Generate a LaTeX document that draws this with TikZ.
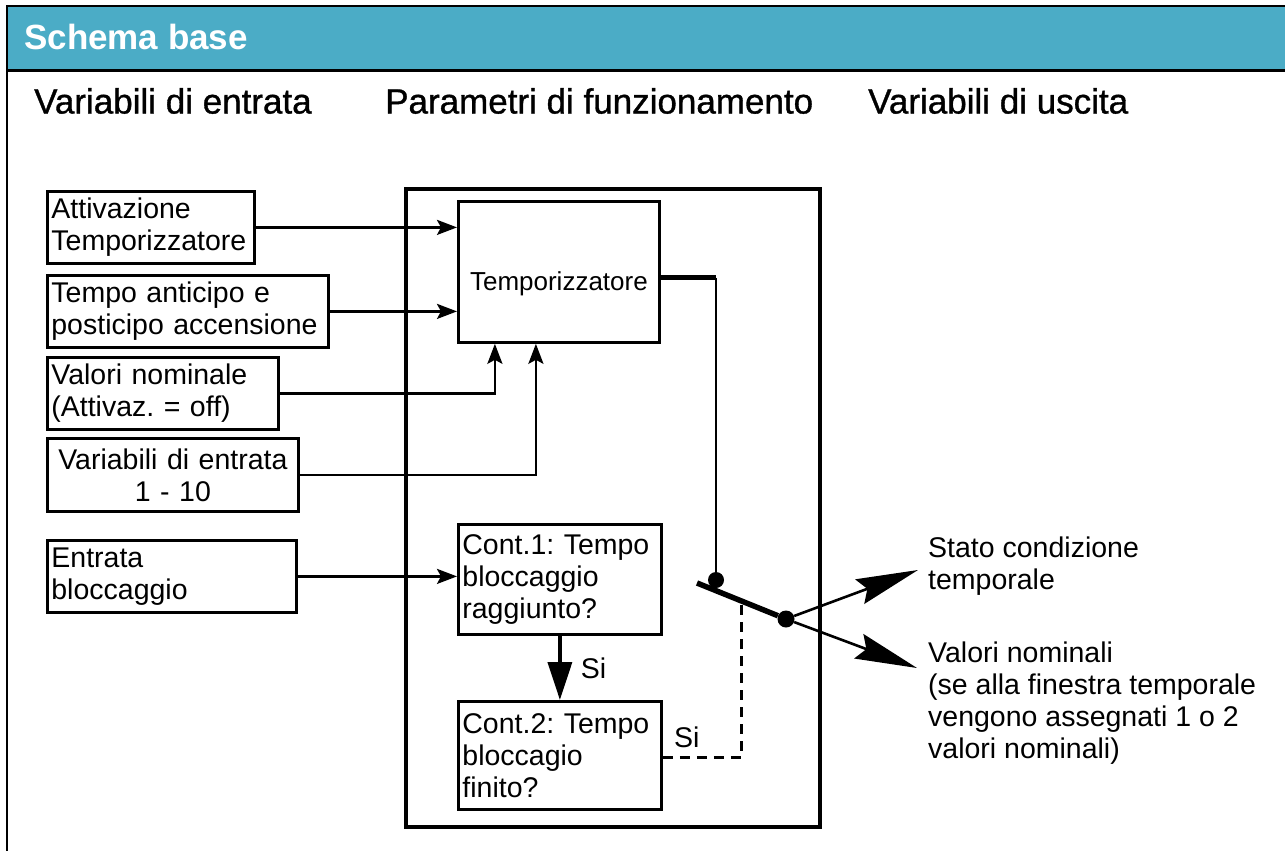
\documentclass[tikz,border=0pt]{standalone}
\usepackage{fontspec}
\setmainfont{Liberation Sans}
\newfontface\headface{Liberation Sans}[FakeBold=1]
\usepackage{tikz}
\usetikzlibrary{arrows.meta,positioning,calc}
\definecolor{headblue}{RGB}{75,172,198}
\frenchspacing

\begin{document}
\begin{tikzpicture}[x=1pt,y=-1pt,
  txt/.style={font={\fontsize{28.5}{32}\selectfont}},
  inbox/.style={txt, draw, line width=2.8pt, anchor=north west, inner xsep=4pt, inner ysep=0pt, align=left},
  colhead/.style={font={\headface\fontsize{35}{40}\selectfont}, anchor=west, inner sep=0pt},
  outtxt/.style={txt, anchor=west, inner sep=0pt, align=left},
  dot/.style={circle, fill, inner sep=0pt, minimum size=16pt},
  arr/.style={line width=2.5pt, -{Stealth[length=20pt,width=15pt,inset=4pt]}},
  siarr/.style={line width=3.5pt, -{Triangle[length=38pt,width=24pt]}},
  outarr/.style={line width=2.6pt, -{Stealth[length=62pt,width=26pt,inset=8pt]}},
  dashwire/.style={line width=3pt, dash pattern=on 10pt off 7pt}]
  \useasboundingbox (0,0) rectangle (1285,851);
  \def\W{1285}\def\H{851}

  % ===== header band and page frame =====
  \fill[headblue] (7,6) rectangle (\W,70);
  \draw[line width=2pt] (7,6.5) -- (\W,6.5);
  \draw[line width=2.5pt] (7,70.5) -- (\W,70.5);
  \draw[line width=2.5pt] (7,5.5) -- (7,\H);
  \node[anchor=west, inner sep=0pt, text=white, font={\fontsize{35}{40}\selectfont\bfseries}] (title) at (24,37) {Schema base};

  % ===== column titles =====
  \node[colhead] (hin)  at (34,101)  {Variabili di entrata};
  \node[colhead] (hpar) at (385,101) {Parametri di funzionamento};
  \node[colhead] (hout) at (868,101) {Variabili di uscita};

  % ===== inputs =====
  \node[inbox, text width=199pt, minimum height=72pt] (attiv) at (46,190) {Attivazione\\Temporizzatore};
  \node[inbox, text width=273pt, minimum height=72pt] (antic) at (46,274) {Tempo anticipo e\\posticipo accensione};
  \node[inbox, text width=223pt, minimum height=72pt] (valnom) at (46,356) {Valori nominale\\(Attivaz. = off)};
  \node[inbox, text width=243pt, minimum height=73pt, align=center] (varin) at (46,437) {Variabili di entrata\\1 - 10};
  \node[inbox, text width=241pt, minimum height=72pt] (blocc) at (46,539) {Entrata\\bloccaggio};

  % ===== parameters block =====
  \node[draw, line width=3.5pt, anchor=north west, minimum width=414pt, minimum height=638pt] (param) at (404,187) {};
  \node[inbox, font={\fontsize{26}{30}\selectfont}, text width=193pt, minimum height=141pt, align=center,
        text height=43pt, text depth=6pt] (timer) at (457,200) {Temporizzatore};
  \node[inbox, text width=195pt, minimum height=110pt] (cont1) at (457,523) {Cont.1: Tempo\\bloccaggio\\raggiunto?};
  \node[inbox, text width=195pt, minimum height=108pt] (cont2) at (457,700) {Cont.2: Tempo\\bloccagio\\finito?};

  % ===== switch =====
  \node[dot] (pivA) at (716,580) {};
  \node[dot, minimum size=17pt] (pivB) at (786,619) {};
  \coordinate (levend) at (697,583);
  \coordinate (levtap) at (741,601);
  \coordinate (tipA) at (918,570);
  \coordinate (tipB) at (917,668);

  % ===== outputs =====
  \node[outtxt] (stato) at (928,566) {Stato condizione\\temporale};
  \node[outtxt] (valout) at (928,703) {Valori nominali\\(se alla finestra temporale\\vengono assegnati 1 o 2\\valori nominali)};

  % ===== connectors =====
  \draw[arr] (attiv.east) -- (attiv.east -| timer.west);
  \draw[arr] (antic.east) -- (antic.east -| timer.west);
  \draw[arr] (valnom.east) -| ([xshift=-64pt]timer.south);
  \draw[arr] (varin.east) -| ([xshift=-23pt]timer.south);
  \draw[arr] (blocc.east) -- (blocc.east -| cont1.west);
  \draw[siarr] (cont1.south) -- (cont2.north) node[txt, midway, anchor=west, xshift=16pt] (si1) {Si};
  \draw[line width=5pt] ([yshift=-6pt]timer.east) -- ([yshift=-6pt]timer.east -| pivA);
  \draw[line width=2.5pt] ([yshift=-6pt]timer.east -| pivA) -- (pivA);
  \draw[line width=5.5pt] (levend) -- (pivB);
  \draw[dashwire] ([yshift=-2pt]cont2.east) -| (levtap);
  \node[txt, anchor=south west, inner sep=0pt] (si2) at (674,748) {Si};
  \draw[outarr] (pivB) -- (tipA);
  \draw[outarr] (pivB) -- (tipB);
\end{tikzpicture}
\end{document}
